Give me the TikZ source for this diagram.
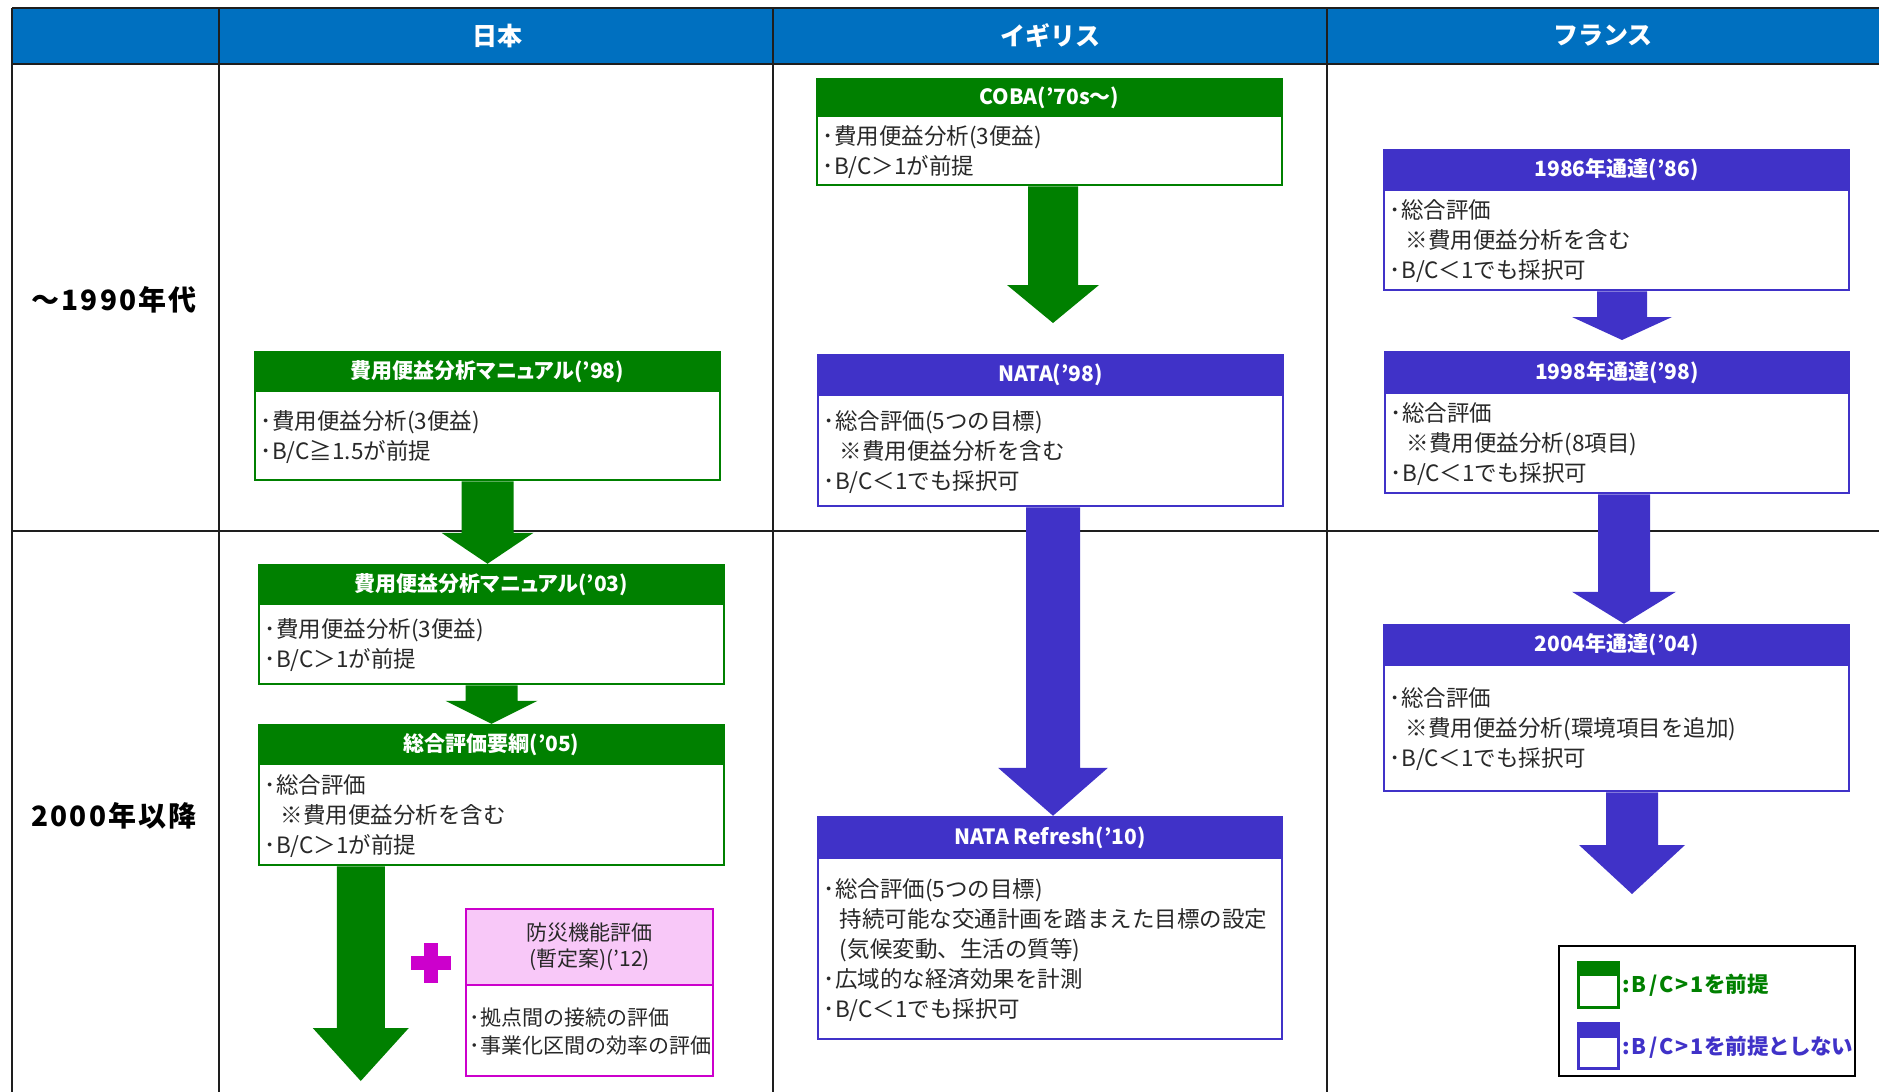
\documentclass[tikz,border=0pt]{standalone}
\usepackage{fontspec}
\setmainfont{Noto Sans CJK JP}
\usetikzlibrary{calc}
\definecolor{hdrblue}{RGB}{0,112,192}
\definecolor{evgreen}{RGB}{0,128,0}
\definecolor{evblue}{RGB}{64,50,200}
\definecolor{evmag}{RGB}{204,0,204}
\definecolor{evpink}{RGB}{248,200,248}
\definecolor{txt}{RGB}{40,40,40}
\definecolor{gridc}{RGB}{30,30,30}
\newcommand\bodyfont{\fontsize{22.5}{30}\selectfont}
\newcommand\hdrfont{\fontsize{21}{25}\selectfont\bfseries\addfontfeature{RawFeature=+palt}}
\newcommand\ind{\hspace*{16pt}}
\newcommand\fatarrow[6]{%
  \fill[#1] let \p1=(#2), \p2=(#3) in
   (\x1-#4,\y1) -- (\x1+#4,\y1) -- (\x1+#4,\y2+#6) -- (\x1+#5,\y2+#6) --
   (\x1,\y2) -- (\x1-#5,\y2+#6) -- (\x1-#4,\y2+#6) -- cycle;}
\tikzset{
  gbox/.style={draw=evgreen, line width=2.5pt, fill=white, inner sep=0pt},
  bbox/.style={draw=evblue, line width=2.5pt, fill=white, inner sep=0pt},
  mbox/.style={draw=evmag, line width=2.5pt, fill=white, inner sep=0pt},
  ghdr/.style={draw=evgreen, fill=evgreen, line width=2.5pt, text=white, font=\hdrfont, inner sep=0pt},
  bhdr/.style={draw=evblue, fill=evblue, line width=2.5pt, text=white, font=\hdrfont, inner sep=0pt},
  mhdr/.style={draw=evmag, fill=evpink, line width=2.5pt, text=txt, align=center,
     font=\fontsize{21}{26}\selectfont, inner sep=0pt},
  body/.style={align=left, text=txt, font=\bodyfont, inner sep=0pt, anchor=west},
  colhdr/.style={text=white, font=\fontsize{25}{28}\selectfont\bfseries},
  rowlbl/.style={text=black, font=\fontsize{28}{30}\selectfont\bfseries\addfontfeature{LetterSpace=8}},
  legtxt/.style={anchor=west, inner sep=0pt, font=\fontsize{21.5}{26}\selectfont\bfseries},
  gridline/.style={draw=gridc, line width=1.5pt}
}
\newcommand\evbox[8]{%
  \node[#2box, minimum width=#4, minimum height=#5] (#1) at (#3) {};
  \node[#2hdr, minimum width=#4, minimum height=#6, anchor=north] (#1h) at (#1.north) {#7};
  \node[body] (#1b) at ($(#1h.south west)!0.5!(#1.south west)+(7,0)$) {#8};
}
\begin{document}
\begin{tikzpicture}[x=1pt,y=-1pt]
\useasboundingbox (0,0) rectangle (1879,1092);
\fill[white] (0,0) rectangle (1879,1092);
% table
\fill[hdrblue] (12,8) rectangle (1879,64);
\draw[gridline] (12,8) -- (1879,8);
\draw[gridline] (12,64) -- (1879,64);
\draw[gridline] (12,531) -- (1879,531);
\draw[gridline] (12,8) -- (12,1092);
\draw[gridline] (219,8) -- (219,1092);
\draw[gridline] (773,8) -- (773,1092);
\draw[gridline] (1327,8) -- (1327,1092);
\node[colhdr] (hJP) at (497,36) {日本};
\node[colhdr] (hUK) at (1050,36) {イギリス};
\node[colhdr] (hFR) at (1603,36) {フランス};
\node[rowlbl] (r1) at (114,300) {～1990年代};
\node[rowlbl] (r2) at (114,816) {2000年以降};
% Japan
\evbox{j1}{g}{487.5,416}{465pt}{128pt}{39pt}{費用便益分析マニュアル('98)}{･費用便益分析(3便益)\\･B/C≧1.5が前提}
\evbox{j2}{g}{491.5,624.5}{465pt}{119pt}{39pt}{費用便益分析マニュアル('03)}{･費用便益分析(3便益)\\･B/C＞1が前提}
\evbox{j3}{g}{491.5,795}{465pt}{140pt}{39pt}{総合評価要綱('05)}{･総合評価\\\ind※費用便益分析を含む\\･B/C＞1が前提}
\node[mbox, minimum width=247pt, minimum height=167pt] (jp) at (589.5,992.5) {};
\node[mhdr, minimum width=247pt, minimum height=76pt, anchor=north] (jph) at (jp.north) {防災機能評価\\(暫定案)('12)};
\node[body, font=\fontsize{21}{28}\selectfont] (jpb) at ($(jph.south west)!0.5!(jp.south west)+(5,0)$) {･拠点間の接続の評価\\･事業化区間の効率の評価};
\coordinate (plc) at (431,963);
\fill[evmag] ($(plc)+(-20,-7)$) rectangle ($(plc)+(20,7)$);
\fill[evmag] ($(plc)+(-7,-20)$) rectangle ($(plc)+(7,20)$);
% UK
\evbox{u1}{g}{1049.5,132}{465pt}{106pt}{37pt}{COBA('70s～)}{･費用便益分析(3便益)\\･B/C＞1が前提}
\evbox{u2}{b}{1050.5,430.5}{465pt}{151pt}{40pt}{NATA('98)}{･総合評価(5つの目標)\\\ind※費用便益分析を含む\\･B/C＜1でも採択可}
\evbox{u3}{b}{1050,928}{464pt}{222pt}{41pt}{NATA Refresh('10)}{･総合評価(5つの目標)\\\ind 持続可能な交通計画を踏まえた目標の設定\\\ind(気候変動、生活の質等)\\･広域的な経済効果を計測\\･B/C＜1でも採択可}
% France
\evbox{f1}{b}{1616.5,220}{465pt}{140pt}{40pt}{1986年通達('86)}{･総合評価\\\ind※費用便益分析を含む\\･B/C＜1でも採択可}
\evbox{f2}{b}{1617,422.5}{464pt}{141pt}{41pt}{1998年通達('98)}{･総合評価\\\ind※費用便益分析(8項目)\\･B/C＜1でも採択可}
\evbox{f3}{b}{1616.5,708}{465pt}{166pt}{40pt}{2004年通達('04)}{･総合評価\\\ind※費用便益分析(環境項目を追加)\\･B/C＜1でも採択可}
% arrows
\fatarrow{evgreen}{j1.south}{j2.north}{26pt}{46pt}{31pt}
\fatarrow{evgreen}{j2.south}{j3.north}{26pt}{46pt}{23pt}
\coordinate (j3end) at (362,1081);
\fatarrow{evgreen}{$(j3.south west)+(103,0)$}{j3end}{24pt}{48pt}{53pt}
\coordinate (u1end) at (1053,323);
\fatarrow{evgreen}{$(u1.south)+(3.5,0)$}{u1end}{25pt}{46pt}{38pt}
\fatarrow{evblue}{$(u2.south)+(2.5,0)$}{u3.north}{27pt}{55pt}{48pt}
\coordinate (f1end) at (1622,340);
\fatarrow{evblue}{$(f1.south)+(5.5,0)$}{f1end}{25pt}{50pt}{23pt}
\fatarrow{evblue}{$(f2.south)+(7,0)$}{f3.north}{26pt}{52pt}{32pt}
\coordinate (f3end) at (1632,894);
\fatarrow{evblue}{$(f3.south)+(15.5,0)$}{f3end}{26pt}{53pt}{49pt}
% legend
\node[draw=black, line width=2pt, fill=white, minimum width=296pt, minimum height=130pt, inner sep=0pt] (leg) at (1707,1011) {};
\node[draw=evgreen, line width=3pt, fill=white, minimum width=40pt, minimum height=45pt, inner sep=0pt] (lg1) at (1598,985) {};
\fill[evgreen] (lg1.north west) rectangle ($(lg1.north east)+(0,15)$);
\node[draw=evblue, line width=3pt, fill=white, minimum width=40pt, minimum height=45pt, inner sep=0pt] (lg2) at (1598,1046) {};
\fill[evblue] (lg2.north west) rectangle ($(lg2.north east)+(0,16)$);
\node[legtxt, text=evgreen] (lt1) at (1622,985) {{\addfontfeature{LetterSpace=10}:B/C>1}を前提};
\node[legtxt, text=evblue] (lt2) at (1622,1047) {{\addfontfeature{LetterSpace=10}:B/C>1}を前提{\addfontfeature{LetterSpace=-3}としない}};
\end{tikzpicture}
\end{document}
